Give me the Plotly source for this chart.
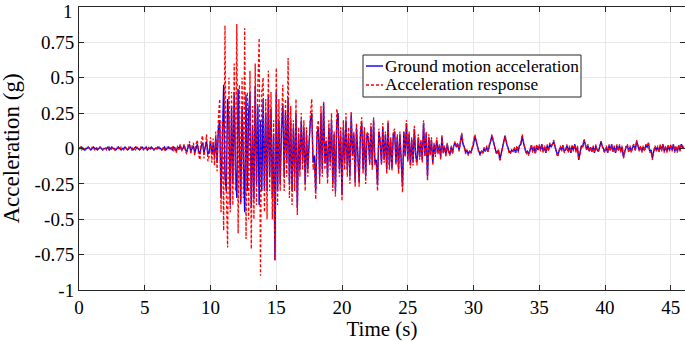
import numpy as np
import plotly.graph_objects as go

# sample interval of the record (s)
dt = 0.1

# Ground motion acceleration, in units of 0.01 g (one row per second)
ground_cg = [
    0, 0, 1, 0, -1, 0, 0, 1, 0, -1,
    0, 1, 0, 0, -1, 0, 1, 0, -1, 0,
    0, 0, 1, -1, 0, 1, 0, 0, -1, 0,
    1, 0, -1, 0, 0, 1, 0, -1, 0, 1,
    0, -1, 0, 1, 0, 0, -1, 0, 1, 0,
    0, 1, -1, 0, 0, 1, 0, -1, 0, 0,
    1, 0, 0, -1, 0, 1, -1, 0, 1, 0,
    0, -1, 1, 0, -2, 1, 0, 2, -1, 0,
    2, -1, -2, 1, 3, -2, 0, 2, -3, 1,
    3, -2, -4, 2, 4, -3, 1, 5, -4, -2,
    5, -4, 3, -6, 8, -10, 14, 20, -35, 10,
    45, -20, -30, 35, 20, -40, 30, -25, 40, -15,
    -35, 42, 10, -38, 30, -20, -45, 38, -30, 25,
    40, -42, 15, -36, 44, -25, 30, -40, 20, -30,
    35, -28, 25, -30, 38, -20, 28, -35, 10, -79,
    40, -30, 20, -25, 15, 30, -20, 25, -10, 35,
    -25, 20, -30, 15, -20, 25, -42, 10, -15, 20,
    -10, 15, -25, 10, -15, 5, 20, 25, -10, -5,
    -30, 10, 15, -20, 25, -15, 32, -10, 5, -20,
    15, -10, 20, -25, 10, -30, 18, 25, -15, 10,
    -33, 15, -10, 20, -15, 10, -20, 24, -5, 10,
    -24, 15, -10, -24, 10, 18, -15, 12, -20, 10,
    8, -10, 15, -12, 20, -10, -8, -26, 12, 5,
    -10, 15, -8, 10, -15, 18, -12, 6, -14, 10,
    12, -10, 8, -15, 10, -6, -27, 12, -5, 18,
    -8, 10, -12, 6, -10, 14, -5, -10, 8, -6,
    5, -8, 18, -5, 10, -20, 8, -4, 6, -10,
    3, -4, 6, -3, 2, -6, 8, -3, 1, -4,
    3, -2, -4, 1, -3, 2, 4, 1, 3, -1,
    4, 10, 3, 1, -3, -1, -4, -2, -3, 0,
    3, 9, 5, 0, -2, -4, -2, -3, 0, -2,
    1, -2, 2, 4, 9, 5, 1, -2, -3, -1,
    -8, -4, -1, 3, 9, 4, 1, -2, -3, -1,
    -2, 0, -3, 1, -2, 2, 3, 9, 4, 0,
    -3, -2, -4, -1, 2, -2, 1, -3, 2, -1,
    2, -1, 3, -2, 1, -3, 2, -1, 3, 1,
    3, 5, 1, -2, -5, -2, 1, -1, 2, -2,
    -1, 2, -2, 1, -3, 2, -1, 3, -2, 1,
    -8, -3, 2, 1, 6, 3, -1, 2, -2, 1,
    -2, 1, -3, 2, -1, -2, 1, 5, 1, -1,
    -2, 1, -3, 2, -1, 3, -2, 1, -3, 2,
    -1, 2, -2, 1, -6, -2, 1, 2, -2, 1,
    -2, 1, 2, -1, 5, 2, -1, 1, -2, 1,
    -1, 2, 1, 4, -2, -1, -7, -2, 1, -1,
    1, -2, 2, -1, 3, -2, 1, -2, 2, -1,
    2, -1, 3, -2, 1, -2, 2, -1, 3, 1,
    0,
]

# Acceleration response, in units of 0.01 g (one row per second)
response_cg = [
    0, 1, -1, 0, 1, -1, 0, 1, 0, -1,
    1, 0, -1, 1, 0, -1, 1, 0, -1, 0,
    1, -1, 0, 1, -1, 0, 1, -1, 0, 1,
    0, -1, 1, 0, -1, 1, 0, -1, 1, 0,
    -1, 1, 0, -1, 1, 0, -1, 1, 0, -1,
    1, 0, -1, 1, -1, 0, 1, -1, 1, 0,
    -1, 1, 0, -1, 1, -1, 0, 1, -1, 1,
    -1, 2, -2, 1, -3, 2, -1, 3, -2, 1,
    3, -2, -4, 3, 5, -4, 2, 4, -5, 3,
    6, -5, -8, 6, 9, -7, 4, 10, -9, -5,
    8, -10, 7, -12, 12, -16, 22, 35, -45, 20,
    -58, 87, -30, -70, 50, -45, 40, -40, 60, -30,
    88, -60, 45, -40, 50, -35, 85, -64, 40, -50,
    55, -71, 30, -50, 60, -40, 45, 78, -90, 40,
    50, -45, 35, -50, 55, -30, 40, -50, 20, -79,
    57, -40, 35, -30, 20, 45, -30, 35, -20, 64,
    -35, 30, -40, 20, -30, 35, -47, 15, -20, 25,
    -15, 20, -30, 15, -20, 10, 25, 35, -15, -10,
    -36, 15, 20, -25, 30, -20, 33, -15, 8, -25,
    20, -15, 25, -30, 12, -34, 28, 22, -20, 15,
    -37, 20, -15, 25, -20, 15, -25, 26, -8, 12,
    -27, 18, -12, -27, 14, 22, -18, 15, -25, 12,
    10, -12, 18, -15, 22, -12, -10, -30, 14, 6,
    -12, 18, -10, 12, -18, 20, -15, 8, -16, 12,
    14, -12, 10, -18, 12, -8, -31, 12, -6, 20,
    -10, 12, -14, 8, -12, 16, -6, -12, 10, -8,
    6, -10, 20, -6, 12, -23, 10, -5, 8, -12,
    4, -6, 8, -4, 3, -8, 10, -4, 2, -6,
    4, -3, -5, 2, -4, 3, 5, 1, 4, -2,
    5, 11, 4, 1, -4, -1, -5, -2, -4, 1,
    4, 10, 6, 1, -3, -5, -2, -4, 1, -2,
    2, -3, 3, 5, 10, 6, 2, -3, -4, -1,
    -9, -5, -1, 4, 9, 5, 1, -3, -4, -1,
    -2, 1, -3, 2, -3, 3, 4, 10, 5, 1,
    -4, -2, -5, -1, 3, -3, 2, -4, 3, -1,
    3, -2, 3, -3, 2, -3, 3, -2, 4, 2,
    3, 6, 1, -3, -6, -2, 2, -2, 3, -3,
    -2, 3, -3, 2, -3, 2, -2, 3, -3, 2,
    -8, -4, 2, 1, 7, 3, -1, 3, -2, 1,
    -3, 2, -3, 3, -2, -2, 2, 5, 2, -2,
    -3, 2, -3, 3, -2, 3, -3, 2, -3, 3,
    -2, 3, -3, 2, -7, -3, 2, 3, -3, 2,
    -3, 2, 3, -2, 6, 2, -2, 2, -3, 2,
    -2, 3, 2, 4, -3, -2, -8, -2, 2, -2,
    2, -3, 3, -2, 3, -3, 2, -3, 3, -2,
    3, -2, 3, -3, 2, -3, 3, -2, 3, 2,
    0,
]

series_names = ["Ground motion acceleration", "Acceleration response"]
y_tick_vals = [1, 0.75, 0.5, 0.25, 0, -0.25, -0.5, -0.75, -1]
y_tick_text = ["1", "0.75", "0.5", "0.25", "0", "-0.25", "-0.5", "-0.75", "-1"]
x_tick_vals = [0, 5, 10, 15, 20, 25, 30, 35, 40, 45]

time_s = np.round(np.arange(len(ground_cg)) * dt, 2)
ground_g = np.array(ground_cg) / 100.0
response_g = np.array(response_cg) / 100.0

FONT = "Liberation Serif, Times New Roman, serif"
AX = "#262626"
GRID = "#e8e8e8"
BLUE = "#0000ff"
RED = "#ff0000"
RED_DASH = "3px,2px"

W, H = 685, 341
ML, MR, MT, MB = 79, 0, 7, 51
PW, PH = W - ML - MR, H - MT - MB


def px_x(p):
    return (p - ML) / PW


def px_y(p):
    return (H - MB - p) / PH


fig = go.Figure()
fig.add_trace(go.Scatter(
    x=time_s, y=ground_g, mode="lines", name=series_names[0],
    line=dict(color=BLUE, width=1.4),
))
fig.add_trace(go.Scatter(
    x=time_s, y=response_g, mode="lines", name=series_names[1],
    line=dict(color=RED, width=1.3, dash=RED_DASH),
))

# legend box (MATLAB style: short sample lines, tight rows)
leg_x0, leg_x1, leg_y0, leg_y1 = 363, 581, 55, 97
row_y = [66, 85]
shapes = [dict(
    type="rect", xref="paper", yref="paper",
    x0=px_x(leg_x0), x1=px_x(leg_x1), y0=px_y(leg_y1), y1=px_y(leg_y0),
    line=dict(color=AX, width=1), fillcolor="white", layer="above",
)]
shapes.append(dict(
    type="line", xref="paper", yref="paper",
    x0=px_x(366), x1=px_x(383), y0=px_y(row_y[0]), y1=px_y(row_y[0]),
    line=dict(color=BLUE, width=1.4), layer="above",
))
shapes.append(dict(
    type="line", xref="paper", yref="paper",
    x0=px_x(366), x1=px_x(383), y0=px_y(row_y[1]), y1=px_y(row_y[1]),
    line=dict(color=RED, width=1.3, dash=RED_DASH), layer="above",
))
annotations = [dict(
    text=name, xref="paper", yref="paper", x=px_x(383), y=px_y(yy),
    xanchor="left", yanchor="middle", showarrow=False,
    font=dict(family=FONT, size=17.3, color="black"),
) for name, yy in zip(series_names, row_y)]
annotations.append(dict(
    text="Acceleration (g)", textangle=-90,
    xref="paper", yref="paper", x=px_x(11), y=0.5,
    xanchor="center", yanchor="middle", showarrow=False,
    font=dict(family=FONT, size=23, color="black"),
))
# the top tick label sits just inside the page edge, as in the original
annotations.append(dict(
    text=y_tick_text[0], xref="paper", yref="paper", x=px_x(74), y=px_y(0),
    xanchor="right", yanchor="top", showarrow=False, borderpad=0,
    font=dict(family=FONT, size=19, color="black"),
))
axis_tick_text = [""] + y_tick_text[1:]

fig.update_layout(
    width=W, height=H,
    margin=dict(l=ML, r=MR, t=MT, b=MB),
    paper_bgcolor="white", plot_bgcolor="white",
    font=dict(family=FONT, color="black", size=19),
    showlegend=False,
    shapes=shapes,
    annotations=annotations,
)
fig.update_xaxes(
    range=[0, 46.08], tickvals=x_tick_vals, automargin=False,
    ticks="inside", ticklen=5, tickcolor=AX,
    showline=True, linecolor=AX, linewidth=1, mirror="ticks",
    showgrid=True, gridcolor=GRID, zeroline=False,
    tickfont=dict(family=FONT, size=19), ticklabeloverflow="allow",
    title=dict(text="Time (s)", font=dict(family=FONT, size=21), standoff=2),
)
fig.update_yaxes(
    range=[-1, 1], tickvals=y_tick_vals, ticktext=axis_tick_text, automargin=False,
    ticks="inside", ticklen=5, tickcolor=AX,
    showline=True, linecolor=AX, linewidth=1, mirror="ticks",
    showgrid=True, gridcolor=GRID, zeroline=False,
    tickfont=dict(family=FONT, size=19), ticklabeloverflow="allow",
)

fig.write_html(
    "out.html",
    config={"displayModeBar": False},
    post_script="document.body.style.margin='0';document.body.style.overflow='hidden';",
)
